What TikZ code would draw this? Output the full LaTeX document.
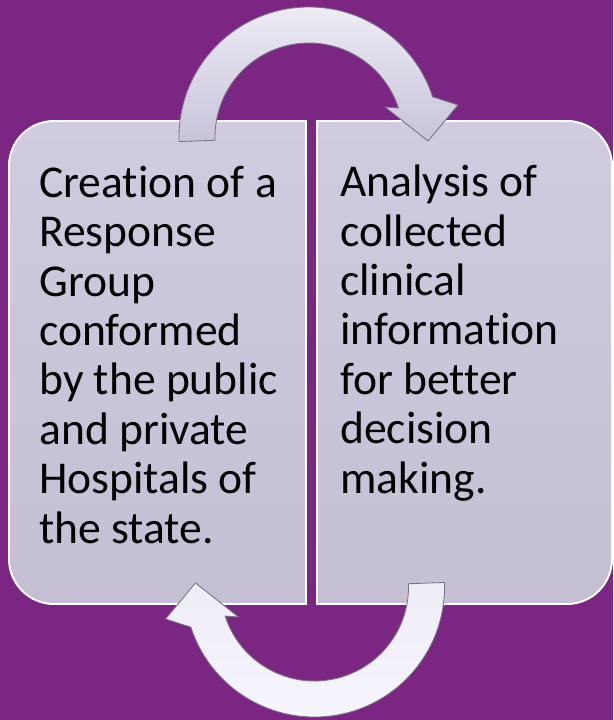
\documentclass[tikz,border=0pt]{standalone}
\usepackage{fontspec}
\setmainfont{Carlito}[Ligatures=NoCommon]
\usetikzlibrary{calc}

\definecolor{bgpurple}{RGB}{122,38,130}
\definecolor{boxtop}{RGB}{208,203,222}
\definecolor{boxbot}{RGB}{197,191,212}
\definecolor{looptop}{RGB}{238,236,245}
\definecolor{loopbot}{RGB}{200,195,218}
\definecolor{looplight}{RGB}{246,244,252}
\definecolor{loopline}{RGB}{120,114,132}

\begin{document}
\begin{tikzpicture}[x=0.025cm, y=-0.025cm,
    box/.style={draw=white, line width=1.4pt, top color=boxtop, bottom color=boxbot},
    looparrow/.style={draw=loopline, line width=0.6pt, line join=round},
    boxtext/.style={anchor=base west, align=left, inner sep=0pt,
        font=\fontsize{32.4}{35.1}\selectfont}]

    % Fondo
    \fill[bgpurple] (0,0) rectangle (613,720);
    \useasboundingbox (0,0) rectangle (613,720);

    % Cajas
    % Izquierda
    \draw[box] (306,121) -- (54,121) arc[start angle=270, end angle=180, radius=45]
        -- (9,559) arc[start angle=180, end angle=90, radius=45] -- (306,604) -- cycle;
    % Derecha
    \draw[box] (317,121) -- (567,121) arc[start angle=270, end angle=360, radius=45]
        -- (612,559) arc[start angle=0, end angle=90, radius=45] -- (317,604) -- cycle;

    % Flechas circulares
    % Superior
    \draw[looparrow, top color=looptop, bottom color=loopbot]
        ($(309,137)+(178:130)$) arc[start angle=178, end angle=342, radius=130]
        -- (458,105) -- (428,141) -- (385,107)
        -- ($(309,137)+(342:94)$) arc[start angle=342, end angle=178, radius=94] -- cycle;
    % Inferior
    \draw[looparrow, top color=looptop, bottom color=looplight]
        ($(314.5,587)+(358:130)$) arc[start angle=358, end angle=522, radius=130]
        -- (165.5,619) -- (195.5,583) -- (238.5,617)
        -- ($(314.5,587)+(522:94)$) arc[start angle=522, end angle=358, radius=94] -- cycle;

    % Textos (ancla en la ultima linea)
    \node[boxtext] (creation) at (39,543) {Creation of a\\Response\\Group\\conformed\\by the public\\and private\\Hospitals of\\the state.};
    \node[boxtext] (analysis) at (340,493) {Analysis of\\collected\\clinical\\information\\for better\\decision\\making.};
\end{tikzpicture}
\end{document}
